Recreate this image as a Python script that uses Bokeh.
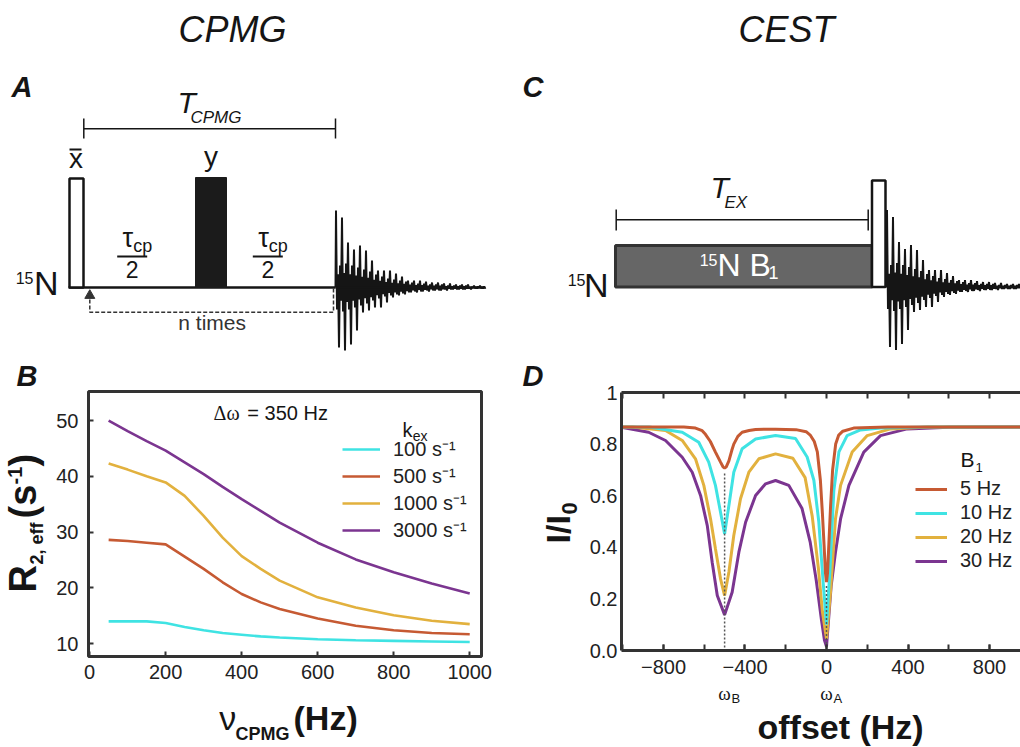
import math
from bokeh.plotting import figure
from bokeh.models import Range1d, Legend, LegendItem, LinearAxis, FixedTicker, Label
from bokeh.layouts import column, row
from bokeh.embed import file_html
from bokeh.resources import INLINE

# ---------------- data ----------------
nu_cpmg = [50, 100, 150, 200, 250, 300, 350, 400, 450, 500, 600, 700, 800, 900, 1000]
r2_k100 = [14.0, 14.0, 14.0, 13.7, 13.0, 12.4, 11.9, 11.6, 11.3, 11.1, 10.8, 10.6, 10.5, 10.4, 10.3]
r2_k500 = [28.6, 28.4, 28.1, 27.8, 25.6, 23.4, 21.0, 18.9, 17.4, 16.2, 14.5, 13.2, 12.4, 11.9, 11.7]
r2_k1000 = [42.3, 41.2, 40.0, 38.9, 36.5, 32.9, 29.0, 25.7, 23.4, 21.3, 18.3, 16.5, 15.1, 14.1, 13.5]
r2_k3000 = [50.0, 48.1, 46.3, 44.6, 42.5, 40.4, 38.1, 35.9, 33.8, 31.7, 28.1, 25.1, 22.8, 20.8, 19.0]
kex_labels = ["100 s\u207b\u00b9", "500 s\u207b\u00b9", "1000 s\u207b\u00b9", "3000 s\u207b\u00b9"]

off_5 = [-1000, -700, -643, -610, -594, -570, -545, -520, -508, -500, -492, -479, -465, -455, -435, -414, -380,
         -348, -250, -150, -100, -80, -60, -45, -30, -20, -12, -5, 0, 5, 12, 20, 30, 45, 60, 80, 133, 300, 600, 952]
I_5 = [0.866, 0.866, 0.862, 0.852, 0.838, 0.810, 0.769, 0.730, 0.712, 0.707, 0.712, 0.735, 0.775, 0.800, 0.830,
       0.846, 0.853, 0.857, 0.858, 0.856, 0.848, 0.835, 0.810, 0.770, 0.660, 0.530, 0.410, 0.300, 0.265, 0.300,
       0.420, 0.560, 0.700, 0.800, 0.835, 0.850, 0.862, 0.866, 0.866, 0.866]
off_10 = [-1000, -870, -708, -627, -578, -545, -520, -500, -479, -455, -414, -348, -250, -152, -95, -62, -38, -16,
          0, 16, 36, 61, 101, 167, 265, 500, 952]
I_10 = [0.866, 0.866, 0.846, 0.807, 0.730, 0.640, 0.536, 0.452, 0.562, 0.691, 0.782, 0.820, 0.833, 0.822, 0.750,
        0.660, 0.500, 0.260, 0.100, 0.300, 0.620, 0.770, 0.833, 0.855, 0.862, 0.866, 0.866]
off_20 = [-1000, -953, -790, -708, -643, -602, -569, -545, -520, -500, -479, -455, -422, -381, -332, -250, -165,
          -105, -70, -40, -20, 0, 20, 44, 69, 126, 200, 314, 500, 952]
I_20 = [0.866, 0.866, 0.853, 0.814, 0.743, 0.640, 0.510, 0.394, 0.278, 0.213, 0.304, 0.446, 0.588, 0.691, 0.743,
        0.762, 0.745, 0.670, 0.520, 0.320, 0.150, 0.045, 0.230, 0.510, 0.640, 0.769, 0.833, 0.859, 0.866, 0.866]
off_30 = [-1000, -873, -790, -708, -659, -618, -585, -561, -536, -500, -463, -430, -397, -348, -299, -250, -185,
          -120, -80, -50, -25, -10, 0, 23, 44, 69, 110, 183, 265, 396, 600, 952]
I_30 = [0.864, 0.846, 0.814, 0.749, 0.691, 0.601, 0.484, 0.342, 0.213, 0.138, 0.226, 0.381, 0.497, 0.601, 0.646,
        0.659, 0.640, 0.550, 0.420, 0.270, 0.120, 0.040, 0.015, 0.252, 0.381, 0.510, 0.640, 0.769, 0.833, 0.859,
        0.865, 0.866]
b1_labels = ["5 Hz", "10 Hz", "20 Hz", "30 Hz"]

# dotted guides in D: (offset, top of the guide)
guide_off = [-500, 0]
guide_top = [0.686, 0.25]

# schematic FID: spike amplitudes (px)
fid_up = [77, 70, 45, 38, 42, 37, 27, 17, 17, 17, 14, 11, 7, 7, 7, 6, 5, 5, 4, 4, 3, 3, 3, 2, 2]
fid_dn = [60, 63, 57, 43, 25, 23, 20, 20, 15, 10, 8, 7, 5, 5, 4, 4, 3, 3, 3, 2, 2, 2, 2, 1, 1]
fid_mid = [22, 24, 22, 20, 18, 16, 13, 11, 9, 8, 7, 6, 5, 4, 4, 3, 3, 3, 2, 2, 2, 2, 1, 1, 1]

x_ticks_B = [0, 200, 400, 600, 800, 1000]
y_ticks_B = [10, 20, 30, 40, 50]
x_ticks_D = [-800, -400, 0, 400, 800]
x_minor_D = [-1000, -800, -600, -400, -200, 0, 200, 400, 600, 800, 1000]
y_ticks_D = [0, 0.2, 0.4, 0.6, 0.8, 1.0]
y_tick_text_D = ["0.0", "0.2", "0.4", "0.6", "0.8", "1"]

CYAN = "#3fe3e3"
RED = "#c65a33"
GOLD = "#e2b13e"
PURPLE = "#7b3590"
INK = "#151515"
FONT = "Liberation Sans"
SHIFT = 0.38  # baseline correction (fraction of font size)


def canvas(w, h, x0, y0, x_range=None, left=0):
    """Figure whose frame fills it; coordinates are page pixels."""
    p = figure(width=w, height=h, x_range=x_range if x_range is not None else Range1d(x0, x0 + w),
               y_range=Range1d(0, h), output_backend="svg", toolbar_location=None,
               x_axis_type=None, y_axis_type=None, min_border=0, min_border_left=left,
               outline_line_color=None)
    p.grid.visible = False
    p._y0 = y0 + h
    return p


def Y(p, y):
    return p._y0 - y


def _label(x, y, s, size, style, align, font, color, angle, x_offset):
    px = float(size.replace("px", ""))
    if angle:
        xo, yo = x_offset - SHIFT * px, 0
    else:
        xo, yo = x_offset, SHIFT * px
    return Label(x=x, y=y, x_offset=xo, y_offset=yo, text=s, text_font=font, text_font_size=size,
                 text_font_style=style, text_align=align, text_baseline="alphabetic",
                 text_color=color, angle=angle)


def txt(p, x, y, s, size, style="normal", align="left", font=FONT, color=INK, angle=0.0, x_offset=0):
    p.add_layout(_label(x, Y(p, y), s, size, style, align, font, color, angle, x_offset))


def lbl(p, x, y, s, size, style="normal", font=FONT, align="left", color=INK):
    p.add_layout(_label(x, y, s, size, style, align, font, color, 0.0, 0))


def seg(p, xs, ys, **kw):
    p.line(xs, [Y(p, v) for v in ys], **kw)


def box(p, l, r, t, b, **kw):
    p.quad(left=[l], right=[r], top=[Y(p, t)], bottom=[Y(p, b)], **kw)


def fid(p, x0, base):
    xs, ys = [x0], [base]
    for i in range(len(fid_up)):
        xi = x0 + 6 * i
        m = fid_mid[i]
        xs += [xi + 0.5, xi + 1.5, xi + 2.5, xi + 3.5, xi + 4.5, xi + 5.5]
        ys += [base - fid_up[i], base + m, base - 0.6 * m, base + fid_dn[i], base - m, base + 0.6 * m]
    xs.append(x0 + 6 * len(fid_up))
    ys.append(base)
    seg(p, xs, ys, line_color=INK, line_width=2.0)
    seg(p, [x0, x0 + 6 * len(fid_up)], [base, base], line_color=INK, line_width=2.2)


# ---------------- top: schematics A and C ----------------
top = canvas(1020, 360, 0, 0)
txt(top, 232, 43, "CPMG", "36px", "italic", "center")
txt(top, 786, 43, "CEST", "36px", "italic", "center")
txt(top, 11, 98, "A", "29px", "bold italic")
txt(top, 522, 98, "C", "29px", "bold italic")

# --- A ---
txt(top, 58, 295, "N", "34px", "normal", "right")
txt(top, 33, 284, "15", "16px", "normal", "right")
seg(top, [68, 335], [287, 287], line_color=INK, line_width=2.5)
box(top, 69, 83, 178, 287, fill_color="white", line_color=INK, line_width=2.5)
box(top, 195, 226, 177, 287, fill_color="#1b1b1b", line_color="#1b1b1b", line_width=1)
txt(top, 75.5, 169, "x", "28px", "normal", "center")
seg(top, [69, 81], [149, 149], line_color=INK, line_width=2)
txt(top, 210.5, 167, "y", "28px", "normal", "center")
for cx in (131.7, 267.3):
    txt(top, cx + 1, 248, "\u03c4", "27px", "normal", "right")
    txt(top, cx + 1, 252, "cp", "18px", "normal", "left")
    seg(top, [cx - 15, cx + 15], [256, 256], line_color=INK, line_width=2)
    txt(top, cx, 278, "2", "23px", "normal", "center")
seg(top, [83.3, 335], [128.3, 128.3], line_color=INK, line_width=1.5)
seg(top, [83.3, 83.3], [118, 138], line_color=INK, line_width=1.5)
seg(top, [335, 335], [118, 138], line_color=INK, line_width=1.5)
txt(top, 177, 113, "T", "30px", "italic")
txt(top, 190, 123, "CPMG", "17px", "italic")
seg(top, [333, 333, 89.3, 89.3], [288, 311.7, 311.7, 298], line_color="#333333", line_width=1.5, line_dash="4 2")
top.scatter([89.3], [Y(top, 295)], marker="triangle", size=10, color="#333333")
txt(top, 211.7, 330, "n times", "21px", "normal", "center", color="#333333")
fid(top, 335, 287)

# --- C ---
txt(top, 608, 297, "N", "34px", "normal", "right")
txt(top, 585, 286, "15", "16px", "normal", "right")
box(top, 615, 871.5, 245, 286.5, fill_color="#666666", line_color="#333333", line_width=3)
box(top, 871.5, 885, 180, 286.5, fill_color="white", line_color=INK, line_width=2.5)
txt(top, 717, 277, "N B", "32px", "normal", "left", color="white")
txt(top, 717, 266, "15", "16px", "normal", "right", color="white")
txt(top, 768, 279, "1", "18px", "normal", "left", color="white")
seg(top, [615.7, 867.7], [219.3, 219.3], line_color=INK, line_width=1.5)
seg(top, [615.7, 615.7], [209, 230], line_color=INK, line_width=1.5)
seg(top, [867.7, 867.7], [209, 230], line_color=INK, line_width=1.5)
txt(top, 710, 198, "T", "30px", "italic")
txt(top, 724, 208, "EX", "17px", "italic")
fid(top, 886, 286.5)


def style_axis(ax, tick_in=5):
    ax.major_tick_in = tick_in
    ax.major_tick_out = 0
    ax.major_tick_line_width = 2
    ax.major_tick_line_color = "#333333"
    ax.minor_tick_line_color = None
    ax.major_label_text_font = FONT
    ax.major_label_text_font_size = "20px"
    ax.major_label_text_color = "#222222"


# ---------------- B ----------------
B_left = canvas(50, 387, 0, 360)
txt(B_left, 16, 387, "B", "29px", "bold italic")
txt(B_left, 37, 592, "R", "38px", "bold", angle=math.pi / 2)
txt(B_left, 43, 564, "2, eff", "18px", "bold", angle=math.pi / 2)
txt(B_left, 37, 518, "(s", "38px", "bold", angle=math.pi / 2)
txt(B_left, 22, 484, "-1", "20px", "bold", angle=math.pi / 2)
txt(B_left, 37, 466, ")", "38px", "bold", angle=math.pi / 2)

pB = figure(width=460, height=340, x_range=Range1d(-3, 1031), y_range=Range1d(7.7, 55.2),
            output_backend="svg", toolbar_location=None, x_axis_type=None, y_axis_type=None,
            min_border_left=38, min_border_right=29, min_border_top=31, min_border_bottom=44,
            outline_line_color="#333333", outline_line_width=3)
pB.grid.visible = False
bxB = LinearAxis(ticker=FixedTicker(ticks=x_ticks_B))
lyB = LinearAxis(ticker=FixedTicker(ticks=y_ticks_B))
pB.add_layout(bxB, "below")
pB.add_layout(lyB, "left")
for ax in (bxB, lyB):
    ax.axis_line_color = None
    style_axis(ax)
bxB.major_label_standoff = 8
lyB.major_label_standoff = 10

rB = []
for ys, c in ((r2_k100, CYAN), (r2_k500, RED), (r2_k1000, GOLD), (r2_k3000, PURPLE)):
    rB.append(pB.line(nu_cpmg, ys, line_color=c, line_width=2.6))
legB = Legend(items=[LegendItem(label=l, renderers=[r]) for l, r in zip(kex_labels, rB)],
              location=(254, 113), glyph_width=38, glyph_height=20, label_height=20, spacing=-2,
              label_standoff=13, padding=0, margin=0, border_line_color=None, background_fill_alpha=0,
              label_text_font=FONT, label_text_font_size="20px", label_text_color="#222222")
pB.add_layout(legB, "center")
lbl(pB, 823, 46.95, "k", "20px")
lbl(pB, 850, 46.2, "ex", "14px")
lbl(pB, 326, 50.0, "\u0394\u03c9", "20px", font="Liberation Serif")
lbl(pB, 415, 50.0, "= 350 Hz", "20px")

B_bot = canvas(460, 47, 50, 700)
txt(B_bot, 203, 730, "\u03bd", "34px")
txt(B_bot, 222, 740, "CPMG", "18px", "bold")
txt(B_bot, 290, 730, "(Hz)", "34px", "bold")

# ---------------- D ----------------
D_left = canvas(72, 387, 510, 360)
txt(D_left, 522, 387, "D", "29px", "bold italic")
txt(D_left, 570, 543, "I/I", "34px", "bold", angle=math.pi / 2)
txt(D_left, 577, 514, "0", "22px", "bold", angle=math.pi / 2)

pD = figure(width=438, height=323, x_range=Range1d(-1006, 952), y_range=Range1d(0, 1.0),
            output_backend="svg", toolbar_location=None, x_axis_type=None, y_axis_type=None,
            min_border_left=39, min_border_right=0, min_border_top=32, min_border_bottom=33,
            outline_line_color=None)
pD.grid.visible = False
txD = LinearAxis(ticker=FixedTicker(ticks=[], minor_ticks=x_minor_D))
bxD = LinearAxis(ticker=FixedTicker(ticks=x_ticks_D, minor_ticks=x_minor_D))
lyD = LinearAxis(ticker=FixedTicker(ticks=y_ticks_D))
pD.add_layout(txD, "above")
pD.add_layout(bxD, "below")
pD.add_layout(lyD, "left")
for ax in (txD, bxD, lyD):
    style_axis(ax, 6)
    ax.axis_line_color = "#333333"
    ax.axis_line_width = 3
for ax in (txD, bxD):
    ax.minor_tick_in = 6
    ax.minor_tick_out = 0
    ax.minor_tick_line_width = 2
    ax.minor_tick_line_color = "#333333"
    ax.major_label_standoff = 9
txD.major_label_standoff = 0
lyD.major_tick_in = 0
lyD.major_label_standoff = 4
lyD.major_label_overrides = dict(zip(y_ticks_D, y_tick_text_D))

rD = {}
for key, xs, ys, c in (("30", off_30, I_30, PURPLE), ("20", off_20, I_20, GOLD),
                       ("10", off_10, I_10, CYAN), ("5", off_5, I_5, RED)):
    rD[key] = pD.line(xs, ys, line_color=c, line_width=3)
pD.segment(x0=guide_off, y0=guide_top, x1=guide_off, y1=[0, 0], line_color="#555555", line_width=1.5,
           line_dash="2 2")
legD = Legend(items=[LegendItem(label=l, renderers=[rD[k]]) for l, k in zip(b1_labels, ["5", "10", "20", "30"])],
              location=(294, 78), glyph_width=32, glyph_height=20, label_height=20, spacing=1,
              label_standoff=13, padding=0, margin=0, border_line_color=None, background_fill_alpha=0,
              label_text_font=FONT, label_text_font_size="20px", label_text_color="#222222")
pD.add_layout(legD, "center")
lbl(pD, 657, 0.709, "B", "21px")
lbl(pD, 731, 0.690, "1", "13px")

D_bot = canvas(438, 64, 582, 683, x_range=pD.x_range, left=39)
for xo, sub in zip(guide_off, ["B", "A"]):
    txt(D_bot, xo, 700, "\u03c9", "19px", font="Liberation Serif", align="center")
    txt(D_bot, xo, 703, sub, "13px", x_offset=7)
txt(D_bot, 69, 739, "offset (Hz)", "34px", "bold", "center")

layout = column(top, row(B_left, column(pB, B_bot), D_left, column(pD, D_bot)))
open("out.html", "w").write(file_html(layout, INLINE))
